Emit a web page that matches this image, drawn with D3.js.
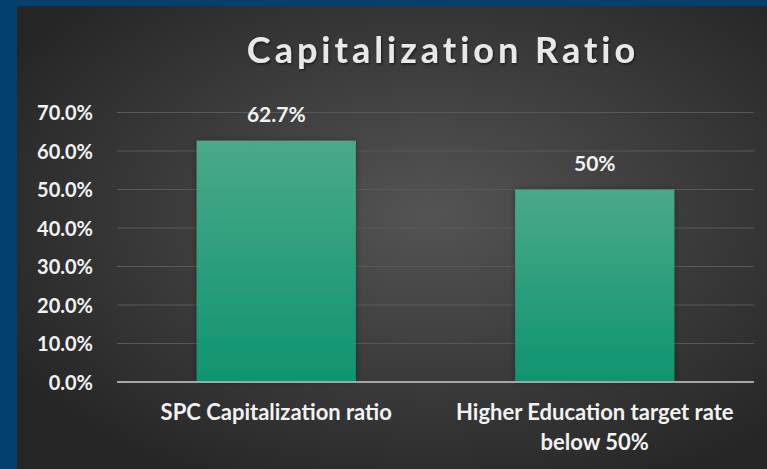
<!DOCTYPE html>
<html><head><meta charset="utf-8">
<script src="https://cdn.jsdelivr.net/npm/d3@7"></script>
<style>html,body{margin:0;padding:0;background:#03406f;overflow:hidden}</style>
</head><body><svg id="c" width="767" height="469"></svg>
<script>
const categories = [["SPC Capitalization ratio"], ["Higher Education target rate", "below 50%"]];
const values = [0.627, 0.50];
const valueLabels = ["62.7%", "50%"];
const ticks = [0, 0.1, 0.2, 0.3, 0.4, 0.5, 0.6, 0.7];
const title = "Capitalization Ratio";

(function(){
const W = 767, H = 469;
const svg = d3.select("#c");
const defs = svg.append("defs");
const bg = defs.append("radialGradient").attr("id","bg").attr("cx","55%").attr("cy","45%").attr("r","65%");
bg.append("stop").attr("offset","0%").attr("stop-color","#545454");
bg.append("stop").attr("offset","100%").attr("stop-color","#262626");
const bar = defs.append("linearGradient").attr("id","bar").attr("x1",0).attr("x2",0).attr("y1",0).attr("y2",1);
bar.append("stop").attr("offset","0%").attr("stop-color","#4aa98a");
bar.append("stop").attr("offset","100%").attr("stop-color","#0f946f");
const sh = defs.append("filter").attr("id","sh").attr("x","-20%").attr("y","-20%").attr("width","140%").attr("height","140%");
sh.append("feDropShadow").attr("dx",0).attr("dy",0).attr("stdDeviation",3).attr("flood-color","#000").attr("flood-opacity",0.35);
const tsh = defs.append("filter").attr("id","tsh");
tsh.append("feDropShadow").attr("dx",1).attr("dy",1.5).attr("stdDeviation",1.2).attr("flood-color","#000").attr("flood-opacity",0.55);

svg.append("rect").attr("x",0).attr("y",0).attr("width",W).attr("height",H).attr("fill","#03406f");
svg.append("rect").attr("x",17).attr("y",6).attr("width",W-17).attr("height",H-6).attr("fill","url(#bg)");

const pL = 117, pR = 754, pT = 112.5, pB = 382;
const x = d3.scaleBand().domain(d3.range(values.length)).range([pL, pR]).paddingInner(0.5).paddingOuter(0.25);
const y = d3.scaleLinear().domain([0, 0.7]).range([pB, pT]);

const font = "Lato, 'Open Sans', sans-serif";

svg.append("g").selectAll("line").data(ticks.filter(t => t > 0)).join("line")
  .attr("x1", pL).attr("x2", pR).attr("y1", d => y(d)).attr("y2", d => y(d))
  .attr("stroke", "#585858").attr("stroke-width", 1);

const yAxis = d3.axisLeft(y).tickValues(ticks).tickFormat(d3.format(".1%")).tickSize(0).tickPadding(0);
const ya = svg.append("g").attr("transform", `translate(${pL-24},0)`).call(yAxis);
ya.select(".domain").remove();
ya.selectAll("text").attr("fill","#f2f2f2").attr("font-family",font).attr("font-weight","bold").attr("font-size","20px").attr("dy","0.35em");

svg.append("g").selectAll("rect").data(values).join("rect")
  .attr("x", (d,i) => x(i)).attr("width", x.bandwidth())
  .attr("y", d => y(d)).attr("height", d => y(0) - y(d))
  .attr("fill", "url(#bar)").attr("filter","url(#sh)");

svg.append("line").attr("x1", pL).attr("x2", pR).attr("y1", y(0)).attr("y2", y(0))
  .attr("stroke", "#a6a6a6").attr("stroke-width", 2);

svg.append("g").selectAll("text").data(values).join("text")
  .attr("x", (d,i) => x(i) + x.bandwidth()/2).attr("y", d => y(d) - 18.5)
  .attr("text-anchor","middle").attr("fill","#f2f2f2").attr("font-family",font)
  .attr("font-weight","bold").attr("font-size","21px").text((d,i) => valueLabels[i]);

const cg = svg.append("g").selectAll("text").data(categories).join("text")
  .attr("text-anchor","middle").attr("fill","#f2f2f2").attr("font-family",font)
  .attr("font-weight","bold").attr("font-size","22px");
cg.selectAll("tspan").data((d,i) => d.map(s => ({s, i}))).join("tspan")
  .attr("x", d => x(d.i) + x.bandwidth()/2).attr("y", (d,j) => 420 + j*30).text(d => d.s);

svg.append("text").attr("x", 443).attr("y", 63).attr("text-anchor","middle")
  .attr("fill","#e8e8e8").attr("font-family",font).attr("font-weight","bold")
  .attr("font-size","36px").attr("letter-spacing","4px").attr("filter","url(#tsh)").text(title);
})();
</script></body></html>
